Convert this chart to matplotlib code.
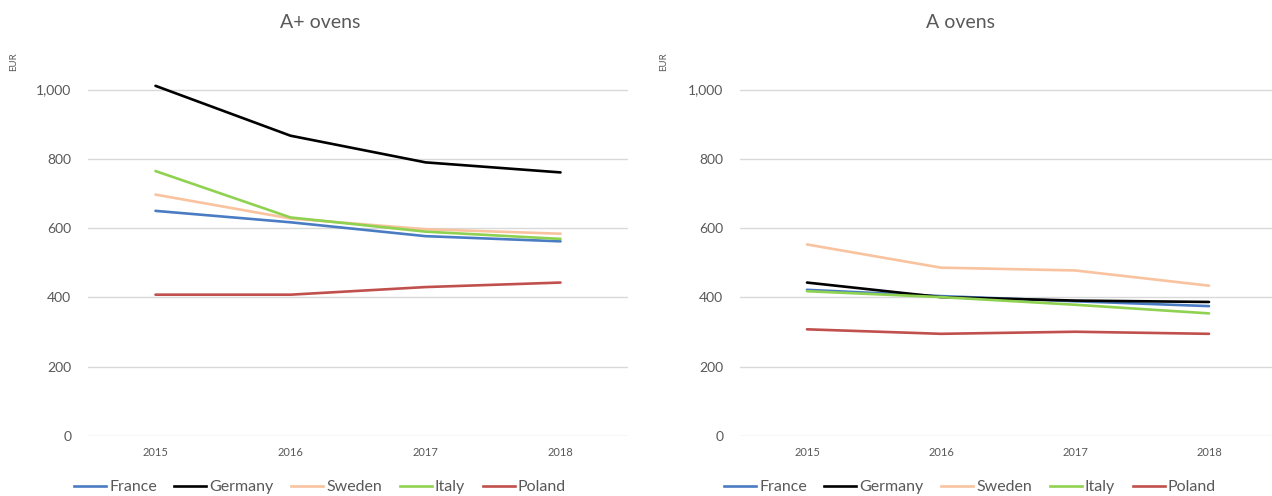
import matplotlib
matplotlib.use("Agg")
import matplotlib.pyplot as plt
from matplotlib.lines import Line2D

years = ["2015", "2016", "2017", "2018"]
countries = ["France", "Germany", "Sweden", "Italy", "Poland"]
colors = ["#4A7CC4", "#000000", "#F8C39E", "#8FD150", "#C0504D"]

aplus_france = [650, 617, 577, 562]
aplus_germany = [1011, 867, 790, 761]
aplus_sweden = [697, 628, 597, 584]
aplus_italy = [765, 631, 590, 569]
aplus_poland = [408, 408, 430, 443]

a_france = [422, 404, 389, 375]
a_germany = [443, 401, 391, 387]
a_sweden = [553, 486, 478, 434]
a_italy = [418, 401, 379, 354]
a_poland = [308, 295, 301, 295]

plt.rcParams['font.family'] = ['Lato', 'DejaVu Sans']
txt = "#595959"

W, H = 1272, 496
fig = plt.figure(figsize=(W / 100, H / 100), dpi=100)
ax1 = fig.add_axes([88/W, 60/H, 540/W, 381/H])
ax2 = fig.add_axes([740/W, 60/H, 536/W, 381/H])

panels = [
    (ax1, "A+ ovens", 320, 14, [aplus_france, aplus_germany, aplus_sweden, aplus_italy, aplus_poland]),
    (ax2, "A ovens", 960, 664, [a_france, a_germany, a_sweden, a_italy, a_poland]),
]

for ax, title, tx, ex, series in panels:
    x = range(len(years))
    for vals, c in zip(series, colors):
        ax.plot(x, vals, color=c, lw=1.9, solid_capstyle='round')
    ax.set_xlim(-0.5, len(years) - 0.5)
    ax.set_ylim(0, 1100)
    ax.set_yticks([0, 200, 400, 600, 800, 1000])
    ax.set_yticklabels(["0", "200", "400", "600", "800", "1,000"])
    ax.set_xticks(list(x))
    ax.set_xticklabels(years)
    ax.grid(axis='y', color="#D9D9D9", lw=1)
    ax.set_axisbelow(True)
    for s in ax.spines.values():
        s.set_visible(False)
    ax.tick_params(axis='y', length=0, pad=12, labelsize=10, labelcolor=txt)
    ax.tick_params(axis='x', length=0, pad=8, labelsize=8, labelcolor=txt)
    fig.text(tx/W, 1 - 23/H, title, fontsize=14, color=txt, ha='center', va='center')
    fig.text(ex/W, 1 - 62/H, "EUR", rotation=90, fontsize=7, color=txt,
             ha='center', va='center')

handles = [Line2D([0], [0], color=c, lw=1.9) for c in colors]
for cx in (320/W, 970/W):
    fig.legend(handles, countries, loc='center', bbox_to_anchor=(cx, 1 - 487/H),
               ncol=5, frameon=False, fontsize=11.5, handlelength=2.0,
               handletextpad=0.2, columnspacing=1.1, labelcolor=txt,
               borderaxespad=0, borderpad=0)

fig.savefig("out.png", dpi=100, facecolor="white")
